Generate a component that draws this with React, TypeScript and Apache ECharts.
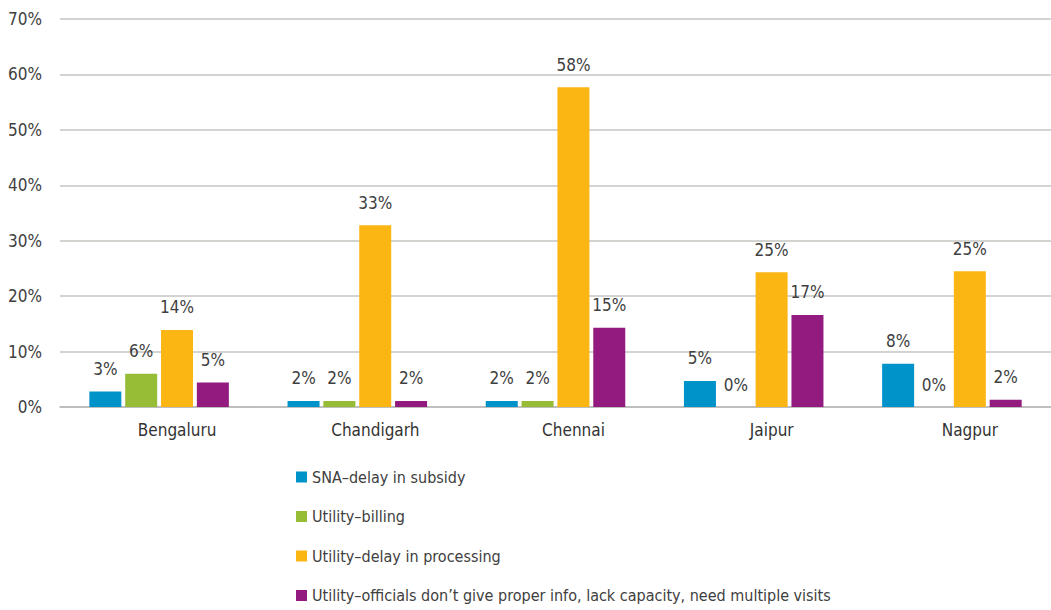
import React, { useEffect, useRef } from "react";
import * as echarts from "echarts";

const categories = ["Bengaluru", "Chandigarh", "Chennai", "Jaipur", "Nagpur"];
const seriesNames = [
  "SNA–delay in subsidy",
  "Utility–billing",
  "Utility–delay in processing",
  "Utility–officials don’t give proper info, lack capacity, need multiple visits",
];
const colors = ["#0093C9", "#97BC36", "#FBB614", "#931B80"];
const snaDelay = [2.8, 1.1, 1.1, 4.7, 7.8];
const utilityBilling = [6.0, 1.1, 1.1, 0, 0];
const utilityProcessing = [13.9, 32.8, 57.7, 24.3, 24.5];
const utilityOfficials = [4.4, 1.1, 14.3, 16.6, 1.3];
const snaLabels = ["3%", "2%", "2%", "5%", "8%"];
const billingLabels = ["6%", "2%", "2%", "0%", "0%"];
const processingLabels = ["14%", "33%", "58%", "25%", "25%"];
const officialsLabels = ["5%", "2%", "15%", "17%", "2%"];
const yTicks = [0, 10, 20, 30, 40, 50, 60, 70];

const FONT = "'Liberation Sans Narrow', 'DejaVu Sans Condensed', Roboto, sans-serif";

export default function App() {
  const ref = useRef<HTMLDivElement>(null);
  useEffect(() => {
    if (!ref.current) return;
    const chart = echarts.init(ref.current, undefined, { renderer: "svg" });
    const values = [snaDelay, utilityBilling, utilityProcessing, utilityOfficials];
    const labels = [snaLabels, billingLabels, processingLabels, officialsLabels];
    chart.setOption({
      animation: false,
      textStyle: { fontFamily: FONT },
      grid: { left: 60, right: -15, top: 19, bottom: 203, containLabel: false },
      legend: {
        orient: "vertical",
        left: 291,
        top: 462,
        height: 200,
        icon: "rect",
        itemWidth: 11,
        itemHeight: 11,
        itemGap: 19.5,
        textStyle: { fontFamily: FONT, fontSize: 16, lineHeight: 20, color: "#404040", padding: [0, 0, 0, 0] },
        data: seriesNames,
      },
      xAxis: {
        type: "category",
        data: categories,
        axisLine: { show: true, lineStyle: { color: "#b8b8b8", width: 1.5 } },
        axisTick: { show: false },
        axisLabel: {
          fontFamily: FONT,
          fontSize: 17,
          color: "#333333",
          margin: 14,
          padding: [0, 0, 0, 36],
        },
      },
      yAxis: {
        type: "value",
        min: yTicks[0],
        max: yTicks[yTicks.length - 1],
        interval: 10,
        axisLine: { show: false },
        axisTick: { show: false },
        splitLine: { lineStyle: { color: "#c4c4c0", width: 1.5 } },
        axisLabel: {
          fontFamily: FONT,
          fontSize: 17,
          color: "#404040",
          margin: 18,
          formatter: (v: number) => `${v}%`,
        },
      },
      series: seriesNames.map((name, i) => ({
        name,
        type: "bar",
        data: values[i],
        barWidth: 32,
        barGap: "12%",
        itemStyle: { color: colors[i] },
        label: {
          show: true,
          position: "top",
          distance: 14,
          fontFamily: FONT,
          fontSize: 17,
          color: "#404040",
          formatter: (p: any) => labels[i][p.dataIndex],
        },
      })),
    });
    return () => chart.dispose();
  }, []);
  return (
    <div
      ref={ref}
      style={{ position: "fixed", left: 0, top: 0, width: 1051, height: 610, background: "#fff" }}
    />
  );
}
